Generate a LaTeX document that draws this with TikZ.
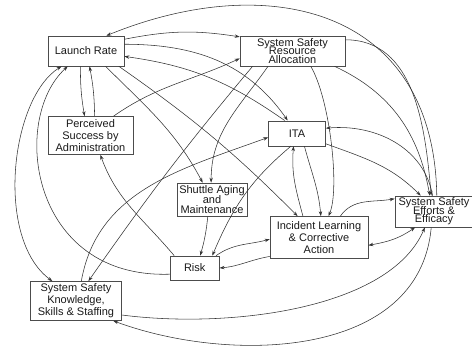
\documentclass[tikz,border=0pt]{standalone}
\usepackage{fontspec}
\setmainfont{Liberation Sans}
\usetikzlibrary{arrows.meta}
\newcommand\lskfix{\lineskiplimit-20pt\relax}

\begin{document}
\begin{tikzpicture}[x=1pt,y=1pt,>={Stealth[length=5pt,width=3.4pt]},
    every node/.style={draw=black!70,line width=0.6pt,align=center,inner sep=0pt,text=black!90,
      font=\fontsize{11}{12}\selectfont\lskfix},
    tight/.style={font=\fontsize{11}{8.4}\selectfont\lskfix},
    link/.style={draw=black!80,line width=0.55pt},
    every edge/.style={link}]
  \useasboundingbox (0,0) rectangle (472,349);

  \node[minimum width=76pt,minimum height=30pt]       (launch)   at (86,298)    {Launch Rate};
  \node[tight,minimum width=105pt,minimum height=30pt] (resource) at (292.5,298) {System Safety\\Resource\\Allocation};
  \node[minimum width=85pt,minimum height=38pt]       (success)  at (90.5,213.5) {Perceived\\Success by\\Administration};
  \node[minimum width=57pt,minimum height=25pt]       (ita)      at (297,215.7) {ITA};
  \node[minimum width=70pt,minimum height=33pt,font=\fontsize{11}{10}\selectfont\lskfix]
                                                      (aging)    at (212,149.5) {Shuttle Aging\\and\\Maintenance};
  \node[minimum width=98pt,minimum height=42pt]       (learning) at (319,111.5) {Incident Learning\\\& Corrective\\Action};
  \node[tight,minimum width=78pt,minimum height=31pt] (efforts)  at (434,137.5) {System Safety\\Efforts \&\\Efficacy};
  \node[minimum width=49pt,minimum height=24pt]       (risk)     at (194.7,81)  {Risk};
  \node[minimum width=91pt,minimum height=39pt]       (staffing) at (76,48)     {System Safety\\Knowledge,\\Skills \& Staffing};

  \path[->] (launch.17)     edge [bend left=10]     (resource.165)
            (launch.10)     edge [out=0,in=125]     (ita.126)
            (launch.-38)    edge [out=-45,in=118]   (aging.119)
            (launch.-25)    edge [out=-35,in=135]   (learning.135)
            (launch.-110)   edge [bend right=5]     (success.107)
            (success.78)    edge [bend right=5]     (launch.-77)
            (ita.134)       edge [out=145,in=-8]    (launch.-8)
            (success.40)    edge [out=35,in=205]    (resource.-172)
            (resource.-148) edge [out=-125,in=90]   (aging.93)
            (resource.-159) edge [out=-130,in=55]   (staffing.58)
            (staffing.75)   edge [out=80,in=200]    (ita.-172)
            (risk.149)      edge [out=130,in=-70]   (success.-63)
            (aging.-104)    edge [bend left=5]      (risk.66)
            (ita.-115)      edge [out=-140,in=67]   (risk.35)
            (ita.-60)       edge [out=-75,in=95]    (learning.85)
            (learning.127)  edge [out=105,in=-95]   (ita.-105)
            (risk.30)       edge [out=35,in=195]    (learning.182)
            (learning.-159) edge [out=-170,in=5]    (risk.0)
            (learning.45)   edge [out=55,in=190]    (efforts.162)
            (resource.12)   edge [out=0,in=95]      (efforts.100)
            (resource.-20)  edge [out=-25,in=100]   (efforts.105)
            (efforts.95)    edge [out=100,in=5]     (ita.10)
            (ita.-20)       edge [out=-20,in=135]   (efforts.130);
  \path[<->] (learning.-9)  edge [out=10,in=-145]   (efforts.-140);

  % long loops round the outside
  \draw[link,->]  (efforts.80) .. controls (434,340) and (270,380) .. (launch.37);
  \draw[link,<->] (launch.-148) .. controls (10,250) and (-5,110) .. (staffing.140);
  \draw[link,->]  (risk.-166) .. controls (30,70) and (10,230) .. (launch.-140);
  \draw[link,->]  (resource.-40) .. controls (330,250) and (340,160) .. (learning.66);
  \draw[link,->]  (staffing.-17) .. controls (230,20) and (390,40) .. (efforts.-120);
  \draw[link,->]  (efforts.-100) .. controls (420,-10) and (230,-15) .. (staffing.-28);
\end{tikzpicture}
\end{document}
